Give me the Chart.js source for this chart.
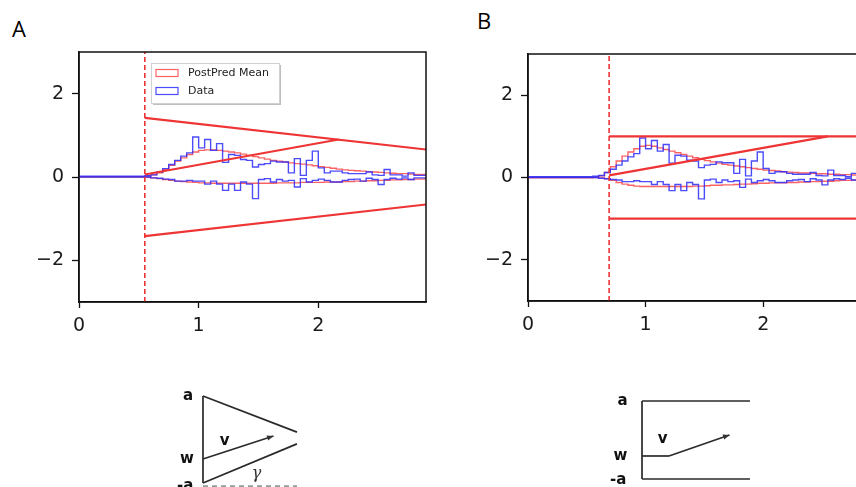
<!DOCTYPE html>
<html>
<head>
<meta charset="utf-8">
<script src="https://cdn.jsdelivr.net/npm/chart.js@4.4.1/dist/chart.umd.min.js"></script>
<style>
  html, body { margin: 0; padding: 0; background: #fff; }
  body { width: 856px; height: 487px; overflow: hidden; position: relative; }
  canvas { position: absolute; }
  .lbl { position: absolute; font-family: "Open Sans", "DejaVu Sans", sans-serif; font-size: 22px; color: #000; }
</style>
</head>
<body>
<div class="lbl" style="left:12px;top:13px;">A</div>
<div class="lbl" style="left:477px;top:5px;">B</div>
<canvas id="panelA" width="432" height="345" style="left:0;top:0;"></canvas>
<canvas id="panelB" width="440" height="345" style="left:440px;top:0;"></canvas>
<canvas id="diagA" width="150" height="107" style="left:170px;top:380px;"></canvas>
<canvas id="diagB" width="170" height="102" style="left:600px;top:385px;"></canvas>
<script>
// histogram bin edges (RT, seconds)
const binEdges = [0.55, 0.60, 0.65, 0.70, 0.75, 0.80, 0.85, 0.90, 0.95, 1.00,
    1.05, 1.10, 1.15, 1.20, 1.25, 1.30, 1.35, 1.40, 1.45, 1.50,
    1.55, 1.60, 1.65, 1.70, 1.75, 1.80, 1.85, 1.90, 1.95, 2.00,
    2.05, 2.10, 2.15, 2.20, 2.25, 2.30, 2.35, 2.40, 2.45, 2.50,
    2.55, 2.60, 2.65, 2.70, 2.75, 2.80, 2.85, 2.90];

// observed data (upper = correct, lower = errors), shared by both panels
const dataUpper = [0.02, 0.03, 0.05, 0.12, 0.20, 0.30, 0.40, 0.50, 0.58, 0.96,
    0.70, 0.90, 0.64, 0.80, 0.35, 0.54, 0.52, 0.42, 0.40, 0.24,
    0.30, 0.32, 0.38, 0.36, 0.36, 0.10, 0.44, 0.04, 0.40, 0.62,
    0.22, 0.10, 0.14, 0.14, 0.10, 0.08, 0.08, 0.08, 0.12, 0.05,
    0.04, 0.18, 0.05, 0.05, 0.02, 0.10, 0.04];
const dataLower = [0, 0, -0.02, -0.03, -0.05, -0.06, -0.10, -0.10, -0.08, -0.10,
    -0.10, -0.17, -0.10, -0.17, -0.32, -0.17, -0.32, -0.12, -0.17, -0.52,
    -0.06, -0.04, -0.12, -0.06, -0.10, -0.08, -0.24, -0.04, -0.12, -0.08,
    -0.05, -0.08, -0.12, -0.12, -0.08, -0.06, -0.05, -0.10, -0.03, -0.06,
    -0.18, -0.06, -0.03, -0.05, -0.02, -0.06, -0.02];

// posterior predictive means, panel A (collapsing bounds)
const meanUpperA = [0.01, 0.02, 0.05, 0.10, 0.18, 0.28, 0.38, 0.46, 0.54, 0.60,
    0.64, 0.65, 0.65, 0.64, 0.62, 0.60, 0.58, 0.55, 0.52, 0.49,
    0.46, 0.43, 0.40, 0.38, 0.36, 0.34, 0.32, 0.31, 0.29, 0.27,
    0.25, 0.23, 0.21, 0.19, 0.17, 0.16, 0.15, 0.14, 0.13, 0.12,
    0.11, 0.10, 0.09, 0.08, 0.08, 0.07, 0.06];
const meanLowerA = [0, -0.01, -0.02, -0.04, -0.06, -0.08, -0.10, -0.11, -0.12, -0.13,
    -0.14, -0.14, -0.15, -0.15, -0.15, -0.15, -0.15, -0.15, -0.15, -0.15,
    -0.15, -0.15, -0.15, -0.14, -0.14, -0.14, -0.14, -0.13, -0.13, -0.13,
    -0.13, -0.12, -0.12, -0.12, -0.11, -0.11, -0.10, -0.10, -0.09, -0.09,
    -0.08, -0.08, -0.07, -0.07, -0.06, -0.06, -0.05];

// posterior predictive means, panel B (fixed bounds)
const meanUpperB = [0, 0.01, 0.04, 0.12, 0.26, 0.40, 0.52, 0.62, 0.70, 0.76,
    0.78, 0.76, 0.72, 0.68, 0.64, 0.60, 0.56, 0.52, 0.48, 0.44,
    0.41, 0.38, 0.35, 0.32, 0.30, 0.28, 0.26, 0.24, 0.22, 0.20,
    0.18, 0.17, 0.16, 0.14, 0.13, 0.12, 0.11, 0.11, 0.10, 0.09,
    0.09, 0.08, 0.08, 0.07, 0.07, 0.06, 0.06];
const meanLowerB = [0, 0, -0.01, -0.03, -0.07, -0.12, -0.16, -0.19, -0.21, -0.22,
    -0.22, -0.22, -0.22, -0.22, -0.22, -0.22, -0.22, -0.22, -0.21, -0.21,
    -0.20, -0.19, -0.19, -0.18, -0.18, -0.17, -0.16, -0.16, -0.15, -0.14,
    -0.14, -0.13, -0.13, -0.13, -0.12, -0.12, -0.11, -0.11, -0.10, -0.10,
    -0.09, -0.09, -0.08, -0.07, -0.07, -0.06, -0.06];

// model overlays: non-decision time, bounds [x0, y0, x1, y1], drift line
const t0A = 0.55;
const boundUpperA = [0.55, 1.42, 2.9, 0.66];
const boundLowerA = [0.55, -1.42, 2.9, -0.66];
const driftA = [0.55, 0.06, 2.17, 0.9];

const t0B = 0.69;
const boundUpperB = [0.69, 1.0, 2.9, 1.0];
const boundLowerB = [0.69, -1.0, 2.9, -1.0];
const driftB = [0.69, 0.05, 2.55, 1.0];

const xTicks = [0, 1, 2];
const yTicks = [-2, 0, 2];

const RED = 'rgb(238, 52, 52)';
const HIST_RED = 'rgba(250, 60, 60, 0.8)';
const HIST_BLUE = 'rgba(45, 45, 250, 0.85)';

Chart.defaults.font.family = '"DejaVu Sans", sans-serif';

function stepPoints(vals) {
    const pts = [{x: 0, y: 0}];
    vals.forEach((v, i) => pts.push({x: binEdges[i], y: v}));
    pts.push({x: binEdges[binEdges.length - 1], y: vals[vals.length - 1]});
    return pts;
}

function seg(s) {
    return [{x: s[0], y: s[1]}, {x: s[2], y: s[3]}];
}

function histDs(vals, color) {
    return { data: stepPoints(vals), borderColor: color, borderWidth: 1.4, stepped: 'after', pointRadius: 0 };
}

function lineDs(s, width, dash) {
    return { data: seg(s), borderColor: RED, borderWidth: width, borderDash: dash || [], pointRadius: 0 };
}

const framePlugin = {
    id: 'frame',
    afterDraw(chart) {
        const a = chart.chartArea, c = chart.ctx;
        c.save();
        c.strokeStyle = '#111';
        c.lineWidth = 1.5;
        c.strokeRect(a.left, a.top, a.right - a.left, a.bottom - a.top);
        c.restore();
    }
};

const legendPlugin = {
    id: 'histLegend',
    afterDraw(chart, args, opts) {
        if (!opts.show) return;
        const c = chart.ctx;
        const x = 151, y = 63, w = 128, h = 40;
        c.save();
        c.fillStyle = 'rgba(0,0,0,0.25)';
        c.fillRect(x + 2, y + 2, w, h);
        c.fillStyle = '#fff';
        c.fillRect(x, y, w, h);
        c.strokeStyle = '#d0d0d0';
        c.lineWidth = 1;
        c.strokeRect(x + 0.5, y + 0.5, w, h);
        const items = [['PostPred Mean', HIST_RED], ['Data', HIST_BLUE]];
        c.font = '11px "DejaVu Sans", sans-serif';
        c.textBaseline = 'middle';
        items.forEach((it, i) => {
            const yy = y + 10 + i * 18;
            c.strokeStyle = it[1];
            c.lineWidth = 1.2;
            c.strokeRect(x + 5, yy - 3.5, 22, 7);
            c.fillStyle = '#222';
            c.fillText(it[0], x + 37, yy + 0.5);
        });
        c.restore();
    }
};

function makePanel(id, cfg) {
    // dataset 0 is drawn on top in Chart.js
    const datasets = [
        lineDs([cfg.t0, -3, cfg.t0, 3], 1.6, [5, 3]),
        lineDs(cfg.boundUpper, 2.2),
        lineDs(cfg.boundLower, 2.2),
        lineDs(cfg.drift, 2.2),
        histDs(dataUpper, HIST_BLUE),
        histDs(dataLower, HIST_BLUE),
        histDs(cfg.meanUpper, HIST_RED),
        histDs(cfg.meanLower, HIST_RED)
    ];
    return new Chart(document.getElementById(id), {
        type: 'line',
        data: { datasets: datasets },
        options: {
            responsive: false,
            animation: false,
            events: [],
            layout: { padding: cfg.padding },
            plugins: { legend: { display: false }, tooltip: { enabled: false }, histLegend: { show: cfg.legend } },
            scales: {
                x: {
                    type: 'linear', min: 0, max: 2.9,
                    afterBuildTicks: s => { s.ticks = xTicks.map(v => ({value: v})); },
                    afterFit: s => { s.height = cfg.xh; },
                    grid: { drawOnChartArea: false, tickLength: 6, color: '#111', tickWidth: 1.3 },
                    border: { color: '#111', width: 1.5 },
                    ticks: { color: '#1a1a1a', font: { size: 19 }, padding: 7, maxRotation: 0 }
                },
                y: {
                    type: 'linear', min: -3, max: 3,
                    afterBuildTicks: s => { s.ticks = yTicks.map(v => ({value: v})); },
                    afterFit: s => { s.width = cfg.yw; },
                    grid: { drawOnChartArea: false, tickLength: 7, color: '#111', tickWidth: 1.3 },
                    border: { color: '#111', width: 1.5 },
                    ticks: { color: '#1a1a1a', font: { size: 19 }, padding: 8,
                        callback: v => v < 0 ? '\u2212' + Math.abs(v) : String(v) }
                }
            }
        },
        plugins: [framePlugin, legendPlugin]
    });
}

makePanel('panelA', {
    meanUpper: meanUpperA, meanLower: meanLowerA,
    boundUpper: boundUpperA, boundLower: boundLowerA, drift: driftA, t0: t0A,
    padding: { left: 0, right: 6, top: 52, bottom: 0 }, yw: 79, xh: 43, legend: true
});
makePanel('panelB', {
    meanUpper: meanUpperB, meanLower: meanLowerB,
    boundUpper: boundUpperB, boundLower: boundLowerB, drift: driftB, t0: t0B,
    padding: { left: 9, right: 11, top: 54, bottom: 0 }, yw: 79, xh: 44, legend: false
});

// schematic diagrams below the panels
const diagAFrame = [[0, 1, 0, -1], [0, 1, 1, 0.17], [0, -1, 1, -0.1]];
const diagAArrow = [0, -0.45, 0.75, 0.08];
const diagADash = [0, -1.07, 1, -1.07];
const diagALabels = [['a', -0.16, 1.0], ['w', -0.17, -0.45], ['-a', -0.19, -1.08], ['v', 0.23, -0.04]];
const diagAGamma = ['\u03b3', 0.57, -0.78];

const diagBFrame = [[0, 1, 0, -1], [0, 1, 1, 1], [0, -1, 1, -1], [0, -0.41, 0.25, -0.41]];
const diagBArrow = [0.25, -0.41, 0.81, 0.13];
const diagBLabels = [['a', -0.18, 1.0], ['w', -0.2, -0.41], ['-a', -0.22, -1.03], ['v', 0.19, 0.02]];

const diagPlugin = {
    id: 'diagText',
    afterDraw(chart, args, opts) {
        const c = chart.ctx, sx = chart.scales.x, sy = chart.scales.y;
        c.save();
        // arrow head
        const a = opts.arrow;
        const x1 = sx.getPixelForValue(a[2]), y1 = sy.getPixelForValue(a[3]);
        const x0 = sx.getPixelForValue(a[0]), y0 = sy.getPixelForValue(a[1]);
        const ang = Math.atan2(y1 - y0, x1 - x0);
        c.fillStyle = '#333';
        c.beginPath();
        c.moveTo(x1, y1);
        c.lineTo(x1 - 7 * Math.cos(ang - 0.4), y1 - 7 * Math.sin(ang - 0.4));
        c.lineTo(x1 - 7 * Math.cos(ang + 0.4), y1 - 7 * Math.sin(ang + 0.4));
        c.closePath();
        c.fill();
        c.font = 'bold 15px "DejaVu Sans", sans-serif';
        c.textAlign = 'center';
        c.textBaseline = 'middle';
        c.fillStyle = '#111';
        opts.labels.forEach(l => c.fillText(l[0], sx.getPixelForValue(l[1]), sy.getPixelForValue(l[2])));
        if (opts.gamma) {
            c.font = 'italic 16px "DejaVu Serif", serif';
            c.fillStyle = '#333';
            c.fillText(opts.gamma[0], sx.getPixelForValue(opts.gamma[1]), sy.getPixelForValue(opts.gamma[2]));
        }
        c.restore();
    }
};

function makeDiagram(id, frame, arrow, dash, labels, gamma, range) {
    const ds = frame.map(s => ({ data: seg(s), borderColor: '#2a2a2a', borderWidth: 1.7, pointRadius: 0 }));
    ds.push({ data: seg(arrow), borderColor: '#2a2a2a', borderWidth: 1.6, pointRadius: 0 });
    if (dash) ds.push({ data: seg(dash), borderColor: '#999', borderWidth: 1.8, borderDash: [5, 4], pointRadius: 0 });
    return new Chart(document.getElementById(id), {
        type: 'line',
        data: { datasets: ds },
        options: {
            responsive: false,
            animation: false,
            events: [],
            layout: { padding: 0 },
            plugins: { legend: { display: false }, tooltip: { enabled: false },
                diagText: { arrow: arrow, labels: labels, gamma: gamma } },
            scales: {
                x: { type: 'linear', display: false, min: range[0], max: range[1] },
                y: { type: 'linear', display: false, min: range[2], max: range[3] }
            }
        },
        plugins: [diagPlugin]
    });
}

makeDiagram('diagA', diagAFrame, diagAArrow, diagADash, diagALabels, diagAGamma, [-0.351, 1.245, -1.092, 1.368]);
makeDiagram('diagB', diagBFrame, diagBArrow, null, diagBLabels, null, [-0.389, 1.185, -1.205, 1.41]);
</script>
</body>
</html>
